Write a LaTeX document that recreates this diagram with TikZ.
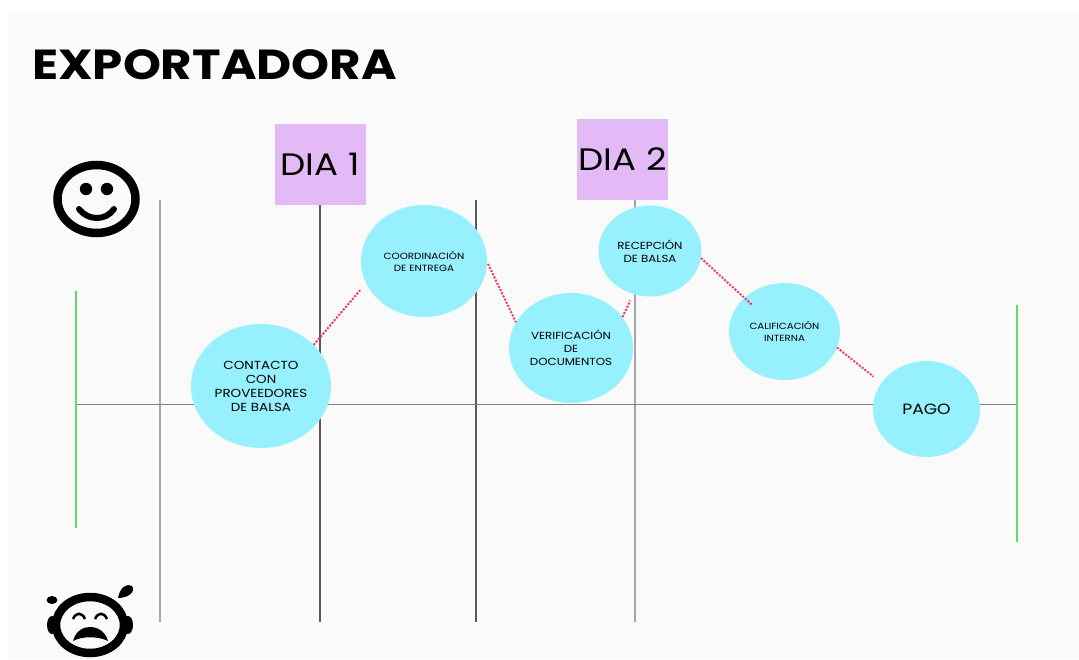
\documentclass[tikz,border=0pt]{standalone}
\usepackage{xcolor}
\usepackage{fontspec}
\setmainfont{Poppins}[FakeStretch=1.15]
\usetikzlibrary{shapes.geometric}

\definecolor{panelgray}{HTML}{FAFAFA}
\definecolor{etapablue}{HTML}{97F0FD}
\definecolor{dialila}{HTML}{E3B9F6}
\definecolor{limitegreen}{HTML}{66D966}
\definecolor{lazopink}{HTML}{F0386B}

\begin{document}
\begin{tikzpicture}[
    x = 1pt, y = -1pt,
    etapa/.style 2 args = {
        ellipse, fill=etapablue, inner sep=0pt, align=center,
        minimum width=#1pt, minimum height=#2pt
    },
    dia/.style = {
        fill=dialila, minimum width=91pt, minimum height=81pt, inner sep=0pt,
        font=\fontsize{31}{34}\selectfont
    },
    lazo/.style = {lazopink, line width=2pt, dash pattern=on 2pt off 1.5pt},
    limite/.style = {limitegreen, line width=1.8pt},
    cara/.style = {black, line width=8.5pt}
  ]
    \useasboundingbox (0,0) rectangle (1079,659);
    \fill[white] (0,0) rectangle (1079,659);
    \fill[panelgray] (8,12) rectangle (1079,659);

    \node[inner sep=0pt, anchor=west] (titulo) at (32,65)
        {\fontsize{42}{45}\selectfont\bfseries EXPORTADORA};

    % ejes
    \foreach \x/\c/\w in {160/black!35/2, 320/black!65/1.3, 476/black!65/1.3, 635/black!35/2}
        \draw[\c, line width=\w pt] (\x,200) -- (\x,622);
    \draw[black!50, line width=1pt] (77,404) -- (1018,404);
    \draw[limite] (76,291) -- (76,528);
    \draw[limite] (1017,305) -- (1017,542);

    \node[dia] (dia1) at (320,164.5) {DIA 1};
    \node[dia] (dia2) at (622.5,159) {DIA 2};

    \node[etapa={140}{124}, font=\fontsize{11.7}{14}\selectfont] (contacto) at (261,386)
        {CONTACTO\\CON\\PROVEEDORES\\DE BALSA};
    \node[etapa={126}{112}, font=\fontsize{9}{12}\selectfont] (coordinacion) at (424,261)
        {COORDINACIÓN\\DE ENTREGA};
    \node[etapa={124}{110}, font=\fontsize{10.3}{13}\selectfont] (verificacion) at (571,348)
        {VERIFICACIÓN\\DE\\DOCUMENTOS};
    \node[etapa={103}{91}, font=\fontsize{10.3}{13}\selectfont] (recepcion) at (650,251)
        {RECEPCIÓN\\DE BALSA};
    \node[etapa={111}{97}, font=\fontsize{8.9}{12}\selectfont] (calificacion) at (784.5,331.5)
        {CALIFICACIÓN\\INTERNA};
    \node[etapa={107}{96}, font=\fontsize{14.9}{16}\selectfont] (pago) at (926.5,409) {PAGO};

    \draw[lazo, shorten >=9pt] (contacto.38) -- (coordinacion.201);
    \draw[lazo, shorten <=2pt] (coordinacion.-1) -- (verificacion.155);
    \draw[lazo, shorten >=7pt] (verificacion.31) -- (recepcion.249);
    \draw[lazo, shorten >=-10pt] (recepcion.-8) -- (calificacion.140);
    \draw[lazo, shorten >=10pt] (calificacion.-17) -- (pago.150);

    % cara feliz
    \draw[cara] (96.5,199) ellipse [x radius=39, y radius=34];
    \fill (86,189) circle (6.2);
    \fill (107,189) circle (6.2);
    \draw[cara, line width=6pt, line cap=round] (79,209) .. controls (88,221) and (106,221) .. (114,209);

    % cara triste
    \draw[cara] (90,625) ellipse [x radius=34, y radius=28];
    \fill (52,625) ellipse [x radius=5, y radius=9];
    \fill (128,625) ellipse [x radius=5, y radius=9];
    \fill (52,600) ellipse [x radius=5.5, y radius=4];
    \fill (118,598) .. controls (120,587) and (127,583) .. (132,586)
        .. controls (136,592) and (128,598) .. (118,598) -- cycle;
    \draw[black, line width=2.5pt] (73,619) .. controls (76,612) and (82,612) .. (85,619);
    \draw[black, line width=2.5pt] (95,619) .. controls (98,612) and (104,612) .. (107,619);
    \fill (73,641) .. controls (76,630) and (84,627) .. (90,627)
        .. controls (96,627) and (105,630) .. (108,641)
        .. controls (98,636) and (82,636) .. (73,641) -- cycle;
\end{tikzpicture}
\end{document}
